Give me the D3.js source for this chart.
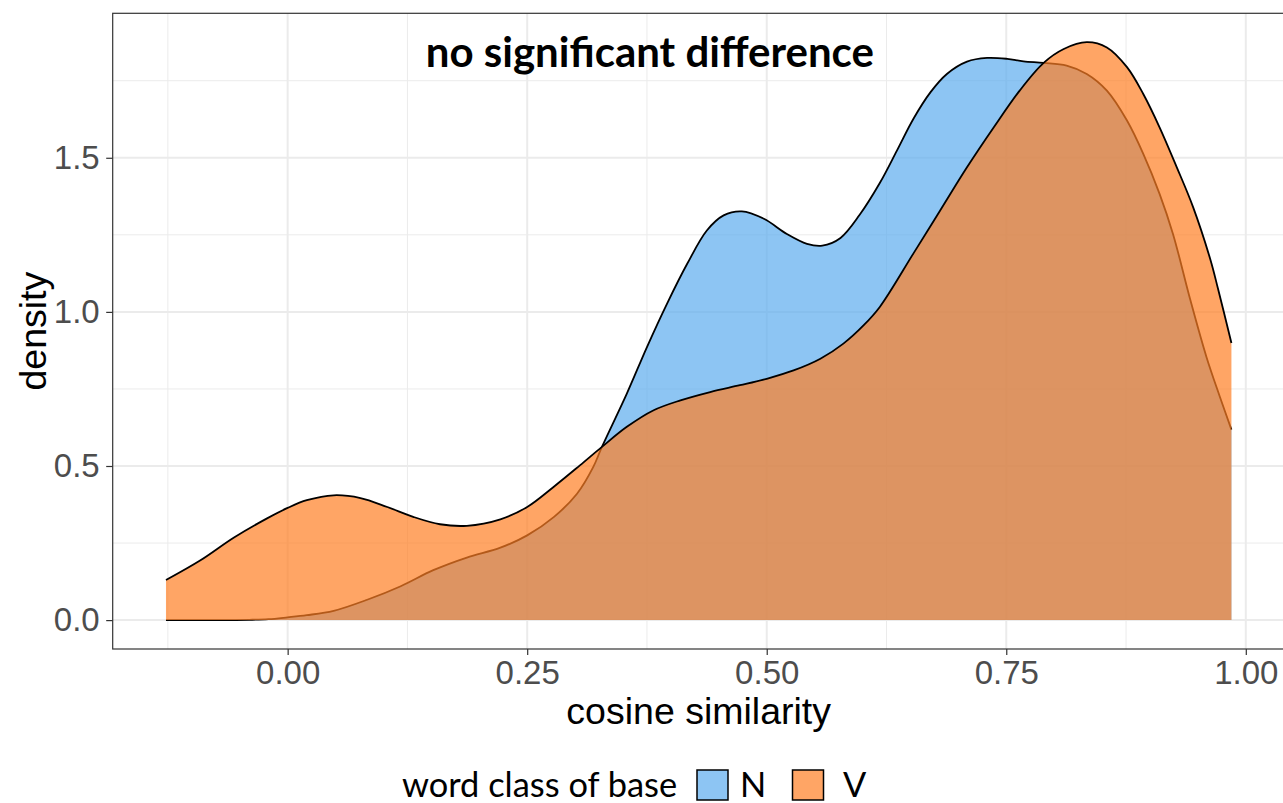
<!DOCTYPE html>
<html>
<head>
<meta charset="utf-8">
<script src="https://cdn.jsdelivr.net/npm/d3@7"></script>
<style>
  html, body { margin: 0; padding: 0; background: #fff; }
  svg { display: block; }
</style>
</head>
<body>
<svg id="chart" width="1283" height="803"></svg>
<script>
// ---- data ----
const groups = ["N", "V"];
const legendTitle = "word class of base";
const annotationText = "no significant difference";
const annotationPos = [0.378, 1.848];

const xN = [-0.127, -0.08, -0.04, -0.02, 0.0, 0.02, 0.048, 0.083, 0.118, 0.152, 0.187, 0.222, 0.25, 0.278, 0.302, 0.319, 0.328, 0.354, 0.375, 0.396, 0.417, 0.4375, 0.455, 0.474, 0.497, 0.521, 0.542, 0.558, 0.577, 0.597, 0.618, 0.636, 0.653, 0.671, 0.688, 0.709, 0.730, 0.751, 0.768, 0.789, 0.813, 0.834, 0.855, 0.876, 0.893, 0.910, 0.924, 0.942, 0.959, 0.973, 0.985];
const densN = [0, 0, 0.001, 0.003, 0.009, 0.016, 0.03, 0.066, 0.11, 0.162, 0.203, 0.235, 0.275, 0.335, 0.41, 0.497, 0.562, 0.735, 0.886, 1.027, 1.156, 1.264, 1.313, 1.326, 1.302, 1.253, 1.221, 1.215, 1.24, 1.315, 1.418, 1.524, 1.626, 1.713, 1.772, 1.812, 1.824, 1.821, 1.813, 1.808, 1.799, 1.772, 1.718, 1.621, 1.513, 1.383, 1.253, 1.04, 0.853, 0.724, 0.618];

const xV = [-0.127, -0.091, -0.056, -0.0215, 0.0, 0.020, 0.048, 0.076, 0.104, 0.131, 0.159, 0.187, 0.222, 0.25, 0.2775, 0.305, 0.328, 0.354, 0.382, 0.41, 0.441, 0.472, 0.500, 0.528, 0.556, 0.580, 0.601, 0.618, 0.653, 0.681, 0.709, 0.737, 0.764, 0.789, 0.810, 0.834, 0.855, 0.876, 0.893, 0.910, 0.928, 0.945, 0.963, 0.971, 0.985];
const densV = [0.130, 0.194, 0.268, 0.330, 0.364, 0.389, 0.405, 0.396, 0.367, 0.335, 0.311, 0.306, 0.327, 0.367, 0.432, 0.502, 0.562, 0.627, 0.681, 0.713, 0.740, 0.762, 0.783, 0.810, 0.848, 0.897, 0.956, 1.016, 1.189, 1.329, 1.469, 1.599, 1.718, 1.808, 1.853, 1.875, 1.858, 1.794, 1.707, 1.599, 1.469, 1.340, 1.17, 1.075, 0.899];

const xTicks = [0, 0.25, 0.5, 0.75, 1.0];
const xMinor = [-0.125, 0.125, 0.375, 0.625, 0.875];
const yTicks = [0, 0.5, 1.0, 1.5];
const yMinor = [0.25, 0.75, 1.25, 1.75];

// ---- styling ----
const colors = { N: "#5CACEE", V: "#FF7F24" };
const fillAlpha = 0.7;
const panel = { left: 112.7, right: 1284.7, top: 13.3, bottom: 649 };

const series = [
  { key: "N", pts: xN.map((x, i) => [x, densN[i]]) },
  { key: "V", pts: xV.map((x, i) => [x, densV[i]]) }
];

// ggplot-like 5% expansion
const allX = xN.concat(xV), allY = densN.concat(densV, [0]);
const xr = d3.extent(allX), yr = d3.extent(allY);
const xp = 0.05 * (xr[1] - xr[0]), yp = 0.05 * (yr[1] - yr[0]);
const x = d3.scaleLinear().domain([xr[0] - xp, xr[1] + xp]).range([panel.left, panel.right]);
const y = d3.scaleLinear().domain([yr[0] - yp, yr[1] + yp]).range([panel.bottom, panel.top]);

const svg = d3.select("#chart");
const axisFont = "'Liberation Sans', Arial, sans-serif";
const legendFont = "Lato, 'Liberation Sans', sans-serif";

// panel grid
const grid = svg.append("g");
grid.selectAll(".ymin").data(yMinor).join("line")
  .attr("x1", panel.left).attr("x2", panel.right)
  .attr("y1", d => y(d)).attr("y2", d => y(d))
  .attr("stroke", "#EBEBEB").attr("stroke-width", 1);
grid.selectAll(".xmin").data(xMinor).join("line")
  .attr("y1", panel.top).attr("y2", panel.bottom)
  .attr("x1", d => x(d)).attr("x2", d => x(d))
  .attr("stroke", "#EBEBEB").attr("stroke-width", 1);
grid.selectAll(".ymaj").data(yTicks).join("line")
  .attr("x1", panel.left).attr("x2", panel.right)
  .attr("y1", d => y(d)).attr("y2", d => y(d))
  .attr("stroke", "#EBEBEB").attr("stroke-width", 2);
grid.selectAll(".xmaj").data(xTicks).join("line")
  .attr("y1", panel.top).attr("y2", panel.bottom)
  .attr("x1", d => x(d)).attr("x2", d => x(d))
  .attr("stroke", "#EBEBEB").attr("stroke-width", 2);

// density areas
const area = d3.area().x(d => x(d[0])).y0(y(0)).y1(d => y(d[1])).curve(d3.curveCatmullRom.alpha(0.5));
const line = d3.line().x(d => x(d[0])).y(d => y(d[1])).curve(d3.curveCatmullRom.alpha(0.5));
const g = svg.append("g");
series.forEach(s => {
  g.append("path").attr("d", area(s.pts))
    .attr("fill", colors[s.key]).attr("fill-opacity", fillAlpha).attr("stroke", "none");
  g.append("path").attr("d", line(s.pts))
    .attr("fill", "none").attr("stroke", "#000").attr("stroke-width", 1.8).attr("stroke-linejoin", "round");
});

// panel border
svg.append("rect")
  .attr("x", panel.left).attr("y", panel.top)
  .attr("width", panel.right - panel.left).attr("height", panel.bottom - panel.top)
  .attr("fill", "none").attr("stroke", "#333333").attr("stroke-width", 1.2);

// axes
const yAxis = svg.append("g").attr("transform", `translate(${panel.left},0)`)
  .call(d3.axisLeft(y).tickValues(yTicks).tickFormat(d3.format(".1f")).tickSize(6.5).tickPadding(6.5));
const xAxis = svg.append("g").attr("transform", `translate(0,${panel.bottom})`)
  .call(d3.axisBottom(x).tickValues(xTicks).tickFormat(d3.format(".2f")).tickSize(6).tickPadding(6));
[yAxis, xAxis].forEach(a => {
  a.select(".domain").remove();
  a.selectAll(".tick line").attr("stroke", "#333333").attr("stroke-width", 1.2);
  a.selectAll(".tick text").attr("fill", "#4D4D4D")
    .style("font-family", axisFont).style("font-size", "33px");
});

// axis titles
svg.append("text").attr("x", (panel.left + panel.right) / 2).attr("y", 724)
  .attr("text-anchor", "middle").style("font-family", axisFont).style("font-size", "37.5px")
  .attr("fill", "#000").text("cosine similarity");
svg.append("text").attr("transform", `translate(46,${(panel.top + panel.bottom) / 2}) rotate(-90)`)
  .attr("text-anchor", "middle").style("font-family", axisFont).style("font-size", "37.5px")
  .attr("fill", "#000").text("density");

// annotation
svg.append("text").attr("x", x(annotationPos[0])).attr("y", y(annotationPos[1]))
  .attr("text-anchor", "middle").attr("dominant-baseline", "central")
  .style("font-family", "Lato, sans-serif").style("font-weight", "bold").style("font-size", "42px")
  .attr("fill", "#000").text(annotationText);

// legend
const lg = svg.append("g");
lg.append("text").attr("x", 402).attr("y", 797)
  .style("font-family", legendFont).style("font-size", "34.4px").attr("fill", "#000").text(legendTitle);
const keyX = { N: 697, V: 792.5 };
const labX = { N: 740, V: 843 };
groups.forEach(k => {
  lg.append("rect").attr("x", keyX[k]).attr("y", 770).attr("width", 31).attr("height", 30)
    .attr("fill", "#fff").attr("stroke", "none");
  lg.append("rect").attr("x", keyX[k]).attr("y", 770).attr("width", 31).attr("height", 30)
    .attr("fill", colors[k]).attr("fill-opacity", fillAlpha).attr("stroke", "#000").attr("stroke-width", 1.5);
  lg.append("text").attr("x", labX[k]).attr("y", 797)
    .style("font-family", legendFont).style("font-size", "34.4px").attr("fill", "#000").text(k);
});
</script>
</body>
</html>
